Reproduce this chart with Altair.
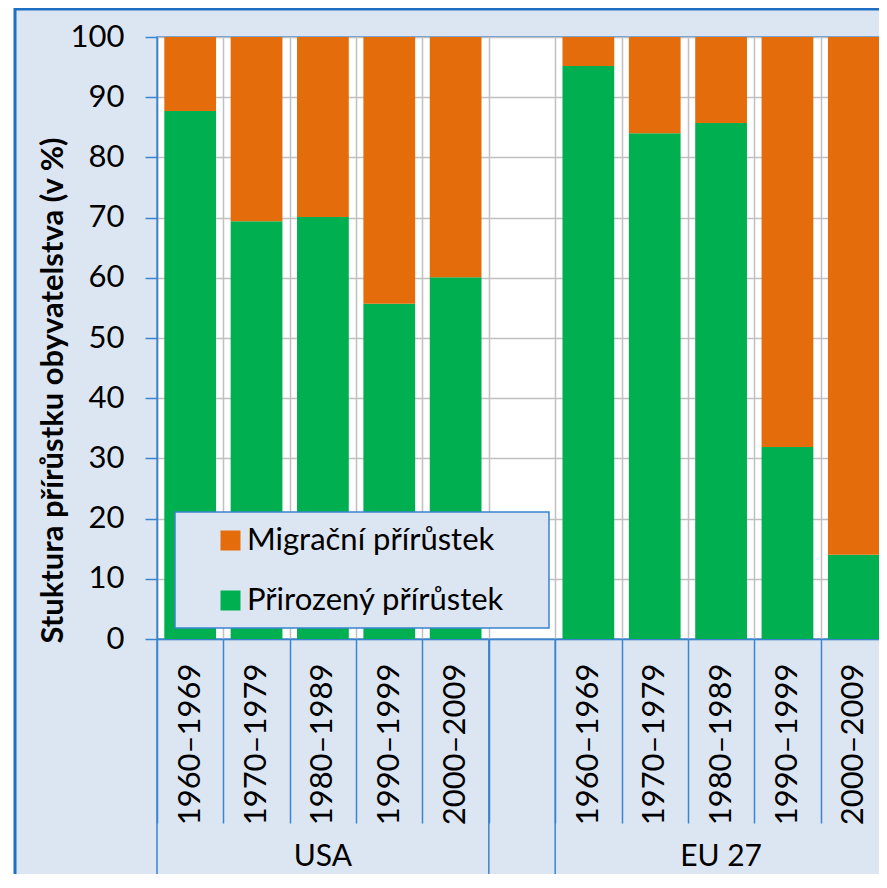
import altair as alt
import pandas as pd

# ---- data ----
periods = ["1960–1969", "1970–1979", "1980–1989", "1990–1999", "2000–2009"]
groups = ["USA", "EU 27"]
usa_natural = [87.7, 69.4, 70.1, 55.7, 60.1]
eu_natural = [95.2, 84.0, 85.7, 31.9, 14.0]
series = ["Migrační přírůstek", "Přirozený přírůstek"]
colors = ["#e46c0a", "#00b050"]
y_ticks = [0, 10, 20, 30, 40, 50, 60, 70, 80, 90, 100]
y_title = "Stuktura přírůstku obyvatelstva (v %)"

GAP = "gap"
usa_codes = ["USA|" + p for p in periods]
eu_codes = ["EU 27|" + p for p in periods]
domain = usa_codes + [GAP] + eu_codes

rows = []
for codes, nat in ((usa_codes, usa_natural), (eu_codes, eu_natural)):
    for c, v in zip(codes, nat):
        rows.append({"cat": c, "series": series[1], "value": v, "ord": 0})
        rows.append({"cat": c, "series": series[0], "value": round(100 - v, 1), "ord": 1})
df = pd.DataFrame(rows)

df_div = pd.DataFrame({"cat": [usa_codes[0], GAP, eu_codes[0]]})
df_grp = pd.DataFrame({"label": groups, "cat": [usa_codes[2], eu_codes[2]]})
one = pd.DataFrame({"a": [0]})

W, H = 730, 602
BOTTOM = 235
AX = "#3a84d0"
FRAME = "#1f6fc5"
BG = "#dce6f2"
FONT = "Lato"

xscale = alt.Scale(domain=domain, paddingInner=0, paddingOuter=0)
xaxis = alt.Axis(
    title=None,
    labelExpr="(isString(datum.value) && indexof(datum.value,'|')>=0) ? split(datum.value,'|')[1] : ''",
    labelAngle=270, labelAlign="right", labelBaseline="middle",
    labelFontSize=31, labelFont=FONT, labelColor="#000000",
    labelPadding=-160, labelOverlap=False, labelLimit=400,
    tickSize=184, tickColor=AX, tickWidth=1.5, tickBand="extent",
    domainColor=AX, domainWidth=1.5,
    grid=True, gridColor="#c0c0c0", gridWidth=1.5,
)

bars = alt.Chart(df).mark_bar(width=alt.RelativeBandSize(0.78)).encode(
    x=alt.X("cat:N", scale=xscale, sort=domain, axis=xaxis),
    y=alt.Y("value:Q", stack="zero", scale=alt.Scale(domain=[0, 100], nice=False),
            axis=alt.Axis(values=y_ticks, tickSize=12, tickColor=AX, tickWidth=1.5,
                          domainColor=AX, domainWidth=1.5,
                          labelFontSize=31, labelFont=FONT, labelColor="#000000", labelPadding=21,
                          gridColor="#c0c0c0", gridWidth=1.5,
                          title=y_title, titleFont=FONT, titleFontSize=31, titleFontWeight="bold",
                          titleColor="#000000", titleAngle=270, titleAlign="center",
                          titleBaseline="middle", titleX=-104, titleY=353)),
    color=alt.Color("series:N", scale=alt.Scale(domain=series, range=colors),
                    legend=alt.Legend(orient="none", legendX=58, legendY=488, title=None,
                                      symbolType="square", symbolSize=400, symbolStrokeWidth=0,
                                      labelFont=FONT, labelFontSize=31, labelColor="#000000",
                                      labelOffset=1, rowPadding=28, padding=0, labelLimit=400)),
    order=alt.Order("ord:Q"),
)

legend_box = alt.Chart(one).mark_rect(fill=BG, stroke=AX, strokeWidth=1.5).encode(
    x=alt.value(18), x2=alt.value(392), y=alt.value(475), y2=alt.value(591)
)

dividers = alt.Chart(df_div).mark_rule(color=AX, strokeWidth=1.5).encode(
    x=alt.X("cat:N", scale=xscale, sort=domain, axis=xaxis, bandPosition=0),
    y=alt.value(H), y2=alt.value(H + 260),
)

grp_labels = alt.Chart(df_grp).mark_text(font=FONT, fontSize=30, color="#000000", baseline="middle").encode(
    x=alt.X("cat:N", scale=xscale, sort=domain, axis=xaxis),
    y=alt.value(H + 218),
    text="label:N",
)

strip = alt.Chart(one).mark_rect(color="white").encode(
    x=alt.value(-149), x2=alt.value(-143), y=alt.value(-29), y2=alt.value(H + BOTTOM)
)
frame_left = alt.Chart(one).mark_rule(color=FRAME, strokeWidth=3).encode(
    x=alt.value(-142), y=alt.value(-29), y2=alt.value(H + BOTTOM)
)
frame_top = alt.Chart(one).mark_rule(color=FRAME, strokeWidth=3).encode(
    x=alt.value(-142), x2=alt.value(W + 5), y=alt.value(-28)
)

chart = alt.layer(bars, legend_box, dividers, grp_labels, strip, frame_left, frame_top).properties(
    width=W, height=H,
    autosize=alt.AutoSizeParams(type="none"),
    padding={"left": 149, "top": 29, "right": -8, "bottom": BOTTOM},
).configure(background=BG).configure_view(fill="white", stroke=AX, strokeWidth=1.5)

chart.save("out.html", embed_options={"renderer": "svg", "actions": False})
